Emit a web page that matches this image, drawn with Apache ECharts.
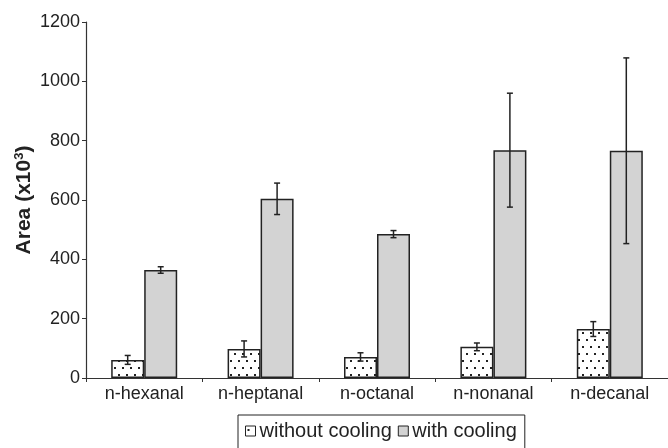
<!DOCTYPE html>
<html><head><meta charset="utf-8">
<script src="https://cdn.jsdelivr.net/npm/echarts@6/dist/echarts.min.js"></script>
<style>html,body{margin:0;padding:0;background:#fff}#c{width:668px;height:448px}</style>
</head><body><div id="c"></div>
<script>
const categories = ['n-hexanal','n-heptanal','n-octanal','n-nonanal','n-decanal'];
const withoutCooling = [61, 98, 71, 105, 165];
const withoutCoolingErr = [15, 27, 14, 13, 25];
const withCooling = [364, 604, 485, 768, 766];
const withCoolingErr = [11, 53, 12, 192, 313];
const yTicks = [0, 200, 400, 600, 800, 1000, 1200];

const pc = document.createElement('canvas');
pc.width = 8; pc.height = 14;
const g = pc.getContext('2d');
g.fillStyle = '#fff'; g.fillRect(0,0,8,14);
g.fillStyle = '#222';
g.fillRect(2,3,2,2); g.fillRect(6,10,2,2);

const BW = 33;
const FONT = 'Liberation Sans, Arial, sans-serif';
function errSeries(vals, errs, off){
  return {
    type:'custom', silent:true, z:5,
    data: vals.map((v,i)=>[i, v, errs[i]]),
    renderItem: function(params, api){
      const i = api.value(0), v = api.value(1), e = api.value(2);
      const hi = api.coord([i, v+e]), lo = api.coord([i, v-e]);
      const x = hi[0] + off;
      const cw = 3;
      const st = {stroke:'#222', lineWidth:1.5};
      return {type:'group', children:[
        {type:'line', shape:{x1:x,y1:hi[1],x2:x,y2:lo[1]}, style:st},
        {type:'line', shape:{x1:x-cw,y1:hi[1],x2:x+cw,y2:hi[1]}, style:st},
        {type:'line', shape:{x1:x-cw,y1:lo[1],x2:x+cw,y2:lo[1]}, style:st}
      ]};
    }
  };
}

const chart = echarts.init(document.getElementById('c'), null, {renderer:'canvas'});
chart.setOption({
  animation:false,
  grid:{left:86, top:22, height:356, width:587},
  legend:{
    data:[{name:'without cooling', itemStyle:{color:{image:pc, repeat:'repeat'}, borderColor:'#222', borderWidth:1}},
          {name:'with cooling', itemStyle:{color:'#d3d3d3', borderColor:'#222', borderWidth:1}}],
    left:238, top:415, padding:[6,8,8,7], itemGap:6, itemWidth:10, itemHeight:10,
    borderColor:'#222', borderWidth:1, icon:'rect',
    textStyle:{fontFamily:FONT, fontSize:20, color:'#222', padding:[0,0,0,-1]}
  },
  xAxis:{
    type:'category', data:categories,
    axisLine:{lineStyle:{color:'#333', width:1.2}},
    axisTick:{show:true, alignWithLabel:false, length:4, lineStyle:{color:'#333'}},
    axisLabel:{fontFamily:FONT, fontSize:18, color:'#222', margin:7}
  },
  yAxis:{
    type:'value', min:0, max:1200, interval:200,
    name:'Area (x10{sup|3})', nameLocation:'middle', nameGap:50, nameRotate:90,
    nameMoveOverlap:false,
    nameTextStyle:{fontFamily:FONT, fontSize:21, fontWeight:'bold', color:'#222',
      rich:{sup:{fontSize:13, fontWeight:'bold', color:'#222', fontFamily:FONT, verticalAlign:'top', padding:[0,0,10,0]}}},
    axisLine:{show:true, lineStyle:{color:'#333', width:1.2}},
    axisTick:{show:true, length:4, lineStyle:{color:'#333'}},
    splitLine:{show:false},
    axisLabel:{fontFamily:FONT, fontSize:18, color:'#222', margin:6,
      formatter: v => yTicks.includes(v) ? String(v) : ''}
  },
  series:[
    {name:'without cooling', type:'bar', data:withoutCooling, barWidth:BW, barGap:'0%',
     itemStyle:{color:{image:pc, repeat:'repeat'}, borderColor:'#222', borderWidth:1.5}},
    {name:'with cooling', type:'bar', data:withCooling, barWidth:BW, barGap:'0%',
     itemStyle:{color:'#d3d3d3', borderColor:'#222', borderWidth:1.5}},
    errSeries(withoutCooling, withoutCoolingErr, -BW/2),
    errSeries(withCooling, withCoolingErr, BW/2)
  ]
});
</script></body></html>
